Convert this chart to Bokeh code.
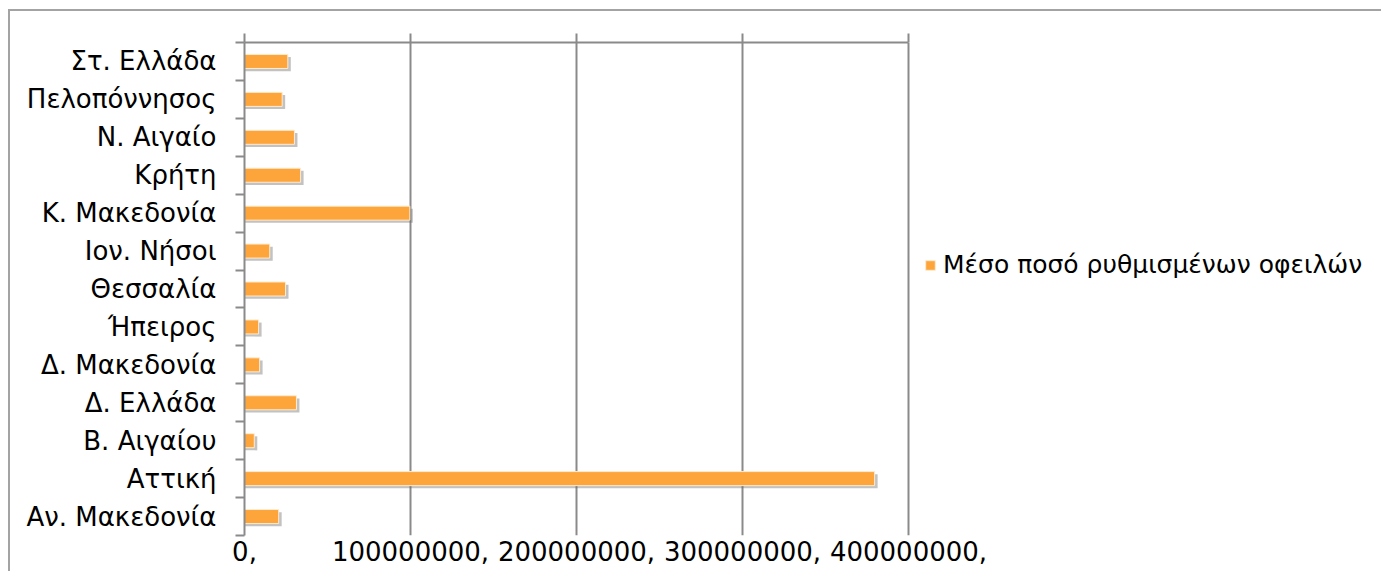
import numpy as np
from bokeh.plotting import figure
from bokeh.models import (Range1d, FixedTicker, LinearAxis, CustomJSTickFormatter,
                          ColumnDataSource, Legend, LegendItem, Grid)
from bokeh.embed import file_html
from bokeh.resources import INLINE

# ---- data (bottom to top) ----
categories = ["Αν. Μακεδονία", "Αττική", "Β. Αιγαίου", "Δ. Ελλάδα", "Δ. Μακεδονία",
              "Ήπειρος", "Θεσσαλία", "Ιον. Νήσοι", "Κ. Μακεδονία", "Κρήτη",
              "Ν. Αιγαίο", "Πελοπόννησος", "Στ. Ελλάδα"]
values = [20600000, 379600000, 5900000, 31300000, 9100000,
          8500000, 24700000, 15200000, 99600000, 33800000,
          30100000, 22700000, 26100000]
x_ticks = [0, 100000000, 200000000, 300000000, 400000000]
series_name = "Μέσο ποσό ρυθμισμένων οφειλών"

FONT = "DejaVu Sans"
FS = "26px"
GRAY = "#8a8a8a"
ORANGE = "#FDA53B"

# layout (pixels)
W, H = 1381, 571
LEFT, TOP, BOTTOM = 244, 42, 36
AXIS_END = 908  # pixel where the value axis ends (last tick)
# frame extends to the right edge so the legend can live inside it
x_max = x_ticks[-1] * (W - LEFT) / (AXIS_END - LEFT)

idx = np.arange(len(categories))
src = ColumnDataSource(dict(y=idx + 0.5, v=values, cat=categories))
shadow = ColumnDataSource(dict(y=idx + 0.5 - 0.07, v=np.array(values) + 1.8e6))

p = figure(width=W, height=H, output_backend="svg", toolbar_location=None,
           x_range=Range1d(0, x_max), y_range=Range1d(0, len(categories)),
           x_axis_type=None, y_axis_type=None,
           min_border_left=LEFT, min_border_right=0, min_border_top=TOP, min_border_bottom=BOTTOM)
p.outline_line_color = None
p.background_fill_color = "white"
p.border_fill_alpha = 0
# outer chart border (left and top edges) drawn behind the transparent canvas border
p.styles = {
    "background-color": "white",
    "background-image": "linear-gradient(#a3a3a3,#a3a3a3), linear-gradient(#a3a3a3,#a3a3a3)",
    "background-size": "2px 100%, 100% 2px",
    "background-position": "8px 9px, 8px 9px",
    "background-repeat": "no-repeat",
}

# shadow + bars
p.hbar(y="y", left=0, right="v", height=0.37, source=shadow,
       fill_color="#666666", fill_alpha=0.4, line_color=None)
bars = p.hbar(y="y", left=0, right="v", height=0.37, source=src,
              fill_color=ORANGE, line_color="#FFEBD0", line_width=1)

# vertical grid lines
xtick = FixedTicker(ticks=x_ticks)
p.add_layout(Grid(dimension=0, ticker=xtick, grid_line_color=GRAY, grid_line_width=2))

# left category axis: labels at centers, ticks (minor) at boundaries
yaxis = LinearAxis(ticker=FixedTicker(ticks=list(idx + 0.5), minor_ticks=list(range(len(categories) + 1))),
                   formatter=CustomJSTickFormatter(args=dict(labels=categories),
                                                   code="return labels[Math.floor(tick)]"))
yaxis.axis_line_color = GRAY
yaxis.axis_line_width = 2
yaxis.major_tick_line_color = None
yaxis.major_tick_in = 0
yaxis.major_tick_out = 0
yaxis.minor_tick_line_color = GRAY
yaxis.minor_tick_line_width = 2
yaxis.minor_tick_in = 0
yaxis.minor_tick_out = 9
yaxis.major_label_standoff = 19
yaxis.major_label_text_font = FONT
yaxis.major_label_text_font_size = FS
yaxis.major_label_text_color = "black"
p.add_layout(yaxis, "left")

# top axis: line + ticks only, bounded to the tick range
top = LinearAxis(ticker=FixedTicker(ticks=x_ticks), bounds=(x_ticks[0], x_ticks[-1]),
                 formatter=CustomJSTickFormatter(code="return ''"))
top.axis_line_color = GRAY
top.axis_line_width = 2
top.major_tick_line_color = GRAY
top.major_tick_line_width = 2
top.major_tick_in = 0
top.major_tick_out = 9
top.minor_tick_line_color = None
top.major_label_text_font_size = "1px"
top.major_label_standoff = 0
p.add_layout(top, "above")

# bottom axis: labels only
bottom = LinearAxis(ticker=FixedTicker(ticks=x_ticks),
                    formatter=CustomJSTickFormatter(code="return tick.toFixed(0) + ','"))
bottom.axis_line_color = None
bottom.major_tick_line_color = None
bottom.major_tick_in = 0
bottom.major_tick_out = 0
bottom.minor_tick_line_color = None
bottom.major_label_standoff = 5
bottom.major_label_text_font = FONT
bottom.major_label_text_font_size = FS
bottom.major_label_text_color = "black"
p.add_layout(bottom, "below")

# legend (inside the extended frame, right of the axis end)
legend = Legend(items=[LegendItem(label=series_name, renderers=[bars])],
                location=(AXIS_END - LEFT + 16, 256), padding=0, margin=0, border_line_color=None,
                background_fill_alpha=0, glyph_width=12, glyph_height=12, label_standoff=7,
                label_text_font=FONT, label_text_font_size="25px", label_text_color="black")
p.add_layout(legend, "center")

open("out.html", "w").write(file_html(p, INLINE))
